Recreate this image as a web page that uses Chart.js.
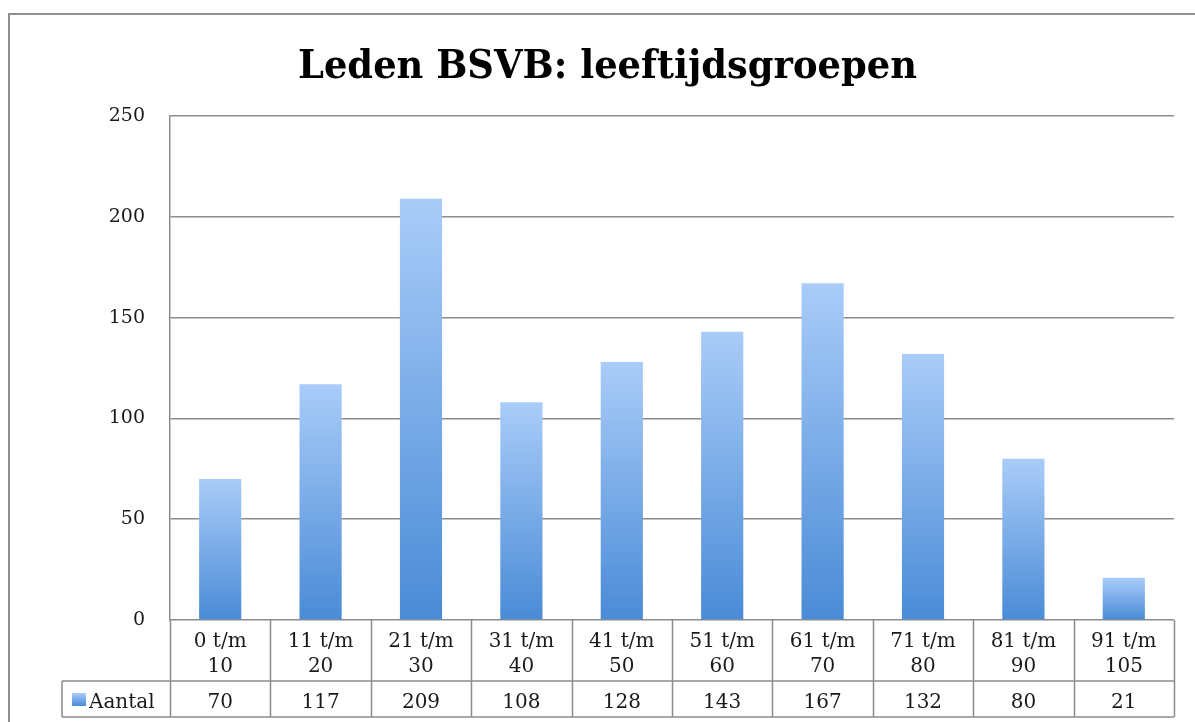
<!DOCTYPE html>
<html><head><meta charset="utf-8">
<script src="https://cdn.jsdelivr.net/npm/chart.js@4"></script>
<style>html,body{margin:0;padding:0;background:#fff;overflow:hidden}#wrap{position:relative;width:1195px;height:722px}</style>
</head><body><div id="wrap"><canvas id="c" width="1195" height="722"></canvas></div>
<script>
const chartTitle = "Leden BSVB: leeftijdsgroepen";
const seriesName = "Aantal";
const categories = [["0 t/m","10"],["11 t/m","20"],["21 t/m","30"],["31 t/m","40"],["41 t/m","50"],["51 t/m","60"],["61 t/m","70"],["71 t/m","80"],["81 t/m","90"],["91 t/m","105"]];
const values = [70,117,209,108,128,143,167,132,80,21];
const yTicks = [0,50,100,150,200,250];

const FONT = "'DejaVu Serif', serif";
const LINE = "#8c8c8c";
const TOPC = "#a9ccf8", BOTC = "#4a8bd7";

function barGradient(c) {
  const chart = c.chart;
  const ys = chart.scales.y;
  if (!ys || !chart.chartArea) return BOTC;
  const v = c.raw;
  const top = ys.getPixelForValue(v), base = ys.getPixelForValue(0);
  if (!isFinite(top) || !isFinite(base) || top === base) return BOTC;
  const g = chart.ctx.createLinearGradient(0, top, 0, base);
  g.addColorStop(0, TOPC); g.addColorStop(1, BOTC);
  return g;
}

const framePlugin = {
  id: 'frame',
  afterDraw(chart) {
    const ctx = chart.ctx, ca = chart.chartArea, xs = chart.scales.x;
    ctx.save();
    ctx.strokeStyle = "#8f8f8f"; ctx.lineWidth = 2;
    ctx.strokeRect(9, 14, 1300, 900);
    ctx.fillStyle = "#000";
    ctx.font = "bold 40px " + FONT;
    ctx.textBaseline = "alphabetic"; ctx.textAlign = "left";
    const w = ctx.measureText(chartTitle).width;
    const target = 619;
    ctx.save();
    ctx.translate(298, 78);
    ctx.scale(target / w, 1);
    ctx.fillText(chartTitle, 0, 0);
    ctx.restore();
    const n = categories.length;
    const cw = (ca.right - ca.left) / n;
    const y0 = ca.bottom, y1 = 681, y2 = 717, legL = 62;
    ctx.strokeStyle = LINE; ctx.lineWidth = 1.5;
    ctx.beginPath();
    for (let i = 0; i <= n; i++) {
      const x = Math.round(ca.left + i * cw) + 0.5;
      ctx.moveTo(x, y0); ctx.lineTo(x, y2);
    }
    ctx.moveTo(legL, y1); ctx.lineTo(ca.right, y1);
    ctx.moveTo(legL, y2); ctx.lineTo(ca.right, y2);
    ctx.moveTo(legL, y1); ctx.lineTo(legL, y2);
    ctx.stroke();
    ctx.fillStyle = "#1a1a1a";
    ctx.font = "20px " + FONT;
    ctx.textAlign = "center";
    for (let i = 0; i < n; i++) {
      const cx = xs.getPixelForValue(i);
      ctx.fillText(categories[i][0], cx, 647);
      ctx.fillText(categories[i][1], cx, 672);
      ctx.fillText(String(values[i]), cx, 708);
    }
    const g = ctx.createLinearGradient(0, 693, 0, 706);
    g.addColorStop(0, TOPC); g.addColorStop(1, BOTC);
    ctx.fillStyle = g;
    ctx.fillRect(72, 693, 14, 13);
    ctx.fillStyle = "#1a1a1a";
    ctx.textAlign = "left";
    ctx.fillText(seriesName, 89, 708);
    ctx.restore();
  }
};

new Chart(document.getElementById('c'), {
  type: 'bar',
  data: {
    labels: categories,
    datasets: [{
      label: seriesName,
      data: values,
      backgroundColor: barGradient,
      barPercentage: 0.42,
      categoryPercentage: 1.0
    }]
  },
  options: {
    responsive: false,
    animation: false,
    devicePixelRatio: 1,
    layout: { padding: { left: 0, right: 21, top: 116, bottom: 102 } },
    plugins: { legend: { display: false }, title: { display: false }, tooltip: { enabled: false } },
    scales: {
      x: {
        display: true,
        offset: true,
        grid: { display: false, drawTicks: false },
        border: { display: false },
        ticks: { display: false }
      },
      y: {
        min: 0, max: 250,
        afterFit(s) { s.width = 170; },
        afterBuildTicks(s) { s.ticks = yTicks.map(v => ({ value: v })); },
        grid: { color: LINE, lineWidth: 1.5, drawTicks: false },
        border: { display: true, color: LINE, width: 1.5 },
        ticks: { padding: 25, color: "#1a1a1a", font: { family: "'DejaVu Serif', serif", size: 19 } }
      }
    }
  },
  plugins: [framePlugin]
});
</script>
</body></html>
